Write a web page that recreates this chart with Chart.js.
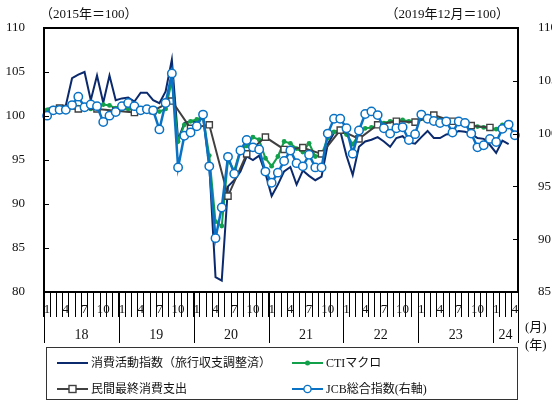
<!DOCTYPE html>
<html><head><meta charset="utf-8">
<script src="https://cdn.jsdelivr.net/npm/chart.js@4/dist/chart.umd.min.js"></script>
<style>
html,body{margin:0;padding:0;background:#fff;}
#wrap{position:relative;width:552px;height:403px;overflow:hidden;font-family:"Liberation Serif","Noto Sans CJK JP",serif;color:#111;}
#c{position:absolute;left:0;top:0;}
.t{position:absolute;font-size:13px;white-space:nowrap;line-height:13px;}
#legend{position:absolute;left:46px;top:347px;width:472px;height:53px;border:1.4px solid #333;box-sizing:border-box;}
.li{position:absolute;font-size:12px;line-height:12px;white-space:nowrap;display:flex;align-items:center;height:14px;}
.li svg{margin-right:3px;}
</style></head>
<body>
<div id="wrap">
<canvas id="c" width="552" height="403"></canvas>
<div class="t" style="left:40px;top:7px;">（2015年＝100）</div>
<div class="t" style="right:43px;top:7px;">（2019年12月＝100）</div>
<div class="t" style="left:525px;top:320px;">(月)</div>
<div class="t" style="left:525px;top:338px;">(年)</div>
<div id="legend">
  <div class="li" style="left:10px;top:8px;"><svg width="31" height="10"><line x1="0" y1="5" x2="31" y2="5" stroke="#0B2A6E" stroke-width="2"/></svg><span>消費活動指数（旅行収支調整済）</span></div>
  <div class="li" style="left:245px;top:8px;"><svg width="31" height="10"><line x1="0" y1="5" x2="31" y2="5" stroke="#13A04A" stroke-width="2"/><circle cx="15.5" cy="5" r="2.5" fill="#13A04A"/></svg><span>CTIマクロ</span></div>
  <div class="li" style="left:10px;top:34px;"><svg width="31" height="10"><line x1="0" y1="5" x2="31" y2="5" stroke="#404040" stroke-width="2"/><rect x="12" y="1.5" width="7" height="7" fill="#fff" stroke="#404040" stroke-width="1.4"/></svg><span>民間最終消費支出</span></div>
  <div class="li" style="left:245px;top:34px;"><svg width="31" height="10"><line x1="0" y1="5" x2="31" y2="5" stroke="#0A72C4" stroke-width="2"/><circle cx="15.5" cy="5" r="3.6" fill="#fff" stroke="#0A72C4" stroke-width="1.4"/></svg><span>JCB総合指数(右軸)</span></div>
</div>
</div>
<script>
// ---- categories ----
const years = ['18','19','20','21','22','23','24'];
const monthsInYear = [12,12,12,12,12,12,4];
const shownMonths = ['1','4','7','10'];
const leftTicks = [80,85,90,95,100,105,110];
const rightTicks = [85,90,95,100,105,110];

const labels = [];
years.forEach((y, k) => { for (let m = 1; m <= monthsInYear[k]; m++) labels.push(y + '-' + m); });

// ---- series (left axis) ----
const consumptionActivity = [100.8,101.0,101.1,101.2,104.3,104.7,105.0,101.8,104.6,101.5,104.6,101.8,
 102.0,102.1,101.65,102.65,102.65,101.8,101.45,102.8,106.4,97.3,99.2,99.4,
 99.3,99.8,94.5,81.7,81.3,92.0,92.7,93.7,95.4,95.0,95.5,93.5,
 90.9,92.2,93.7,94.2,92.2,93.8,93.2,92.7,93.1,96.8,98.1,98.3,
 95.5,93.3,96.5,97.1,97.3,97.6,97.1,96.5,97.5,97.7,97.0,96.85,
 97.6,98.3,97.5,97.5,97.9,98.0,98.3,98.2,98.0,97.5,97.4,96.7,
 95.8,97.2,96.8];
const ctiMacro = [100.7,100.9,100.9,100.9,101.1,101.0,100.9,100.8,100.9,101.3,101.2,100.9,
 100.8,100.8,100.7,100.8,100.7,100.7,100.5,100.8,104.0,97.1,99.0,99.4,
 99.6,99.9,95.5,88.0,87.5,95.0,93.8,96.2,96.6,97.6,97.3,95.2,
 94.3,95.4,97.1,96.9,96.3,95.9,96.9,95.4,95.6,97.5,98.2,98.4,
 97.9,96.8,97.9,98.6,98.7,98.9,99.2,99.4,99.45,99.55,99.4,99.4,
 99.7,99.8,99.9,99.6,99.4,99.3,99.3,99.1,99.0,98.8,98.7,98.6,
 98.5,99.0];
const quarterMonths = ['18-3','18-6','18-9','18-12','19-3','19-6','19-9','19-12','20-3','20-6','20-9','20-12',
 '21-3','21-6','21-9','21-12','22-3','22-6','22-9','22-12','23-3','23-6','23-9','23-12'];
const privateConsumption = [100.9,100.8,100.8,100.6,100.4,100.6,101.7,98.6,99.0,90.9,95.7,97.6,
 96.2,96.4,95.7,98.4,97.4,99.0,99.4,99.3,100.1,99.4,98.9,98.7];
// ---- series (right axis) ----
const jcbIndex = [101.7,102.2,102.25,102.25,102.7,103.5,102.5,102.75,102.6,101.1,101.7,102.05,
 102.6,102.9,102.6,102.2,102.3,102.2,100.4,102.9,105.7,96.8,99.8,100.1,
 100.7,101.8,96.9,90.1,93.0,97.8,96.2,98.4,99.4,98.7,98.5,96.4,
 95.35,96.3,97.4,98.4,97.2,96.9,98.0,96.8,96.8,100.0,101.4,101.4,
 100.5,98.1,100.3,101.85,102.1,101.75,100.5,100.0,100.5,100.6,99.4,99.95,
 101.8,101.4,101.2,101.0,101.15,100.1,101.15,101.0,100.0,98.7,98.9,99.5,
 99.2,100.45,100.85,99.85];

const FONT = '"Liberation Serif","Noto Sans CJK JP",serif';
const INK = '#111';

const decor = {
  id: 'decor',
  afterDatasetsDraw(chart) {
    const ctx = chart.ctx, a = chart.chartArea;
    const yl = chart.scales.y, yr = chart.scales.y2;
    ctx.save();
    ctx.strokeStyle = '#000';
    ctx.lineWidth = 1;
    leftTicks.forEach(v => { const p = Math.round(yl.getPixelForValue(v)) + 0.5; ctx.beginPath(); ctx.moveTo(a.left, p); ctx.lineTo(a.left + 5, p); ctx.stroke(); });
    rightTicks.forEach(v => { const p = Math.round(yr.getPixelForValue(v)) + 0.5; ctx.beginPath(); ctx.moveTo(a.right - 5, p); ctx.lineTo(a.right, p); ctx.stroke(); });
    ctx.lineWidth = 2;
    ctx.strokeRect(a.left, a.top, a.right - a.left, a.bottom - a.top);
    ctx.restore();
  },
  afterDraw(chart) {
    const ctx = chart.ctx, a = chart.chartArea, x = chart.scales.x;
    ctx.save();
    ctx.strokeStyle = '#000';
    ctx.lineWidth = 1;
    let start = 0;
    const bounds = [0];
    monthsInYear.forEach(n => { start += n; bounds.push(start); });
    bounds.forEach(b => {
      const p = Math.round(x.getPixelForValue(b - 0.5)) + 0.5;
      ctx.beginPath(); ctx.moveTo(p, a.bottom); ctx.lineTo(p, a.bottom + 51); ctx.stroke();
    });
    ctx.fillStyle = INK;
    ctx.font = '14px ' + FONT;
    ctx.textAlign = 'center';
    ctx.textBaseline = 'middle';
    years.forEach((y, k) => {
      const c = (bounds[k] + bounds[k + 1]) / 2 - 0.5;
      ctx.fillText(y, x.getPixelForValue(c), a.bottom + 43);
    });
    ctx.restore();
  }
};

new Chart(document.getElementById('c'), {
  type: 'line',
  data: {
    labels: labels,
    datasets: [
      { label: 'JCB総合指数(右軸)', data: jcbIndex, yAxisID: 'y2', order: 1,
        borderColor: '#0A72C4', borderWidth: 2.5, pointRadius: 4.2, pointBackgroundColor: '#fff',
        pointBorderColor: '#0A72C4', pointBorderWidth: 1.5, tension: 0 },
      { label: '民間最終消費支出', data: quarterMonths.map((q, i) => ({ x: q, y: privateConsumption[i] })),
        yAxisID: 'y', order: 2, spanGaps: true,
        borderColor: '#404040', borderWidth: 2, pointStyle: 'rect', pointRadius: 4.4,
        pointBackgroundColor: '#fff', pointBorderColor: '#404040', pointBorderWidth: 1.4, tension: 0 },
      { label: 'CTIマクロ', data: ctiMacro, yAxisID: 'y', order: 3,
        borderColor: '#13A04A', borderWidth: 2, pointRadius: 2.4, pointBackgroundColor: '#13A04A',
        pointBorderWidth: 0, tension: 0 },
      { label: '消費活動指数（旅行収支調整済）', data: consumptionActivity, yAxisID: 'y', order: 4,
        borderColor: '#0B2A6E', borderWidth: 2, pointRadius: 0, tension: 0 }
    ]
  },
  options: {
    responsive: false,
    animation: false,
    devicePixelRatio: 1,
    layout: { padding: { top: 28, left: 0, right: 0, bottom: 0 } },
    plugins: { legend: { display: false }, tooltip: { enabled: false } },
    scales: {
      x: {
        type: 'category', offset: true,
        grid: { display: true, drawOnChartArea: false, drawTicks: true, tickLength: 25, offset: true, color: '#000', lineWidth: 1 },
        border: { display: false },
        ticks: {
          autoSkip: false, minRotation: 0, maxRotation: 0, padding: -15, color: INK,
          font: { family: FONT, size: 13 },
          callback: function (v) { const m = this.getLabelForValue(v).split('-')[1]; return shownMonths.includes(m) ? m : ''; }
        },
        afterFit(s) { s.height = 111; }
      },
      y: {
        position: 'left', min: 80, max: 110,
        ticks: { stepSize: 5, padding: 11, color: INK, font: { family: FONT, size: 13 } },
        grid: { display: false }, border: { display: false },
        afterFit(s) { s.width = 44; }
      },
      y2: {
        position: 'right', min: 85, max: 110,
        ticks: { stepSize: 5, padding: 12, color: INK, font: { family: FONT, size: 13 } },
        grid: { display: false }, border: { display: false },
        afterFit(s) { s.width = 34; }
      }
    }
  },
  plugins: [decor]
});
</script>
</body></html>
